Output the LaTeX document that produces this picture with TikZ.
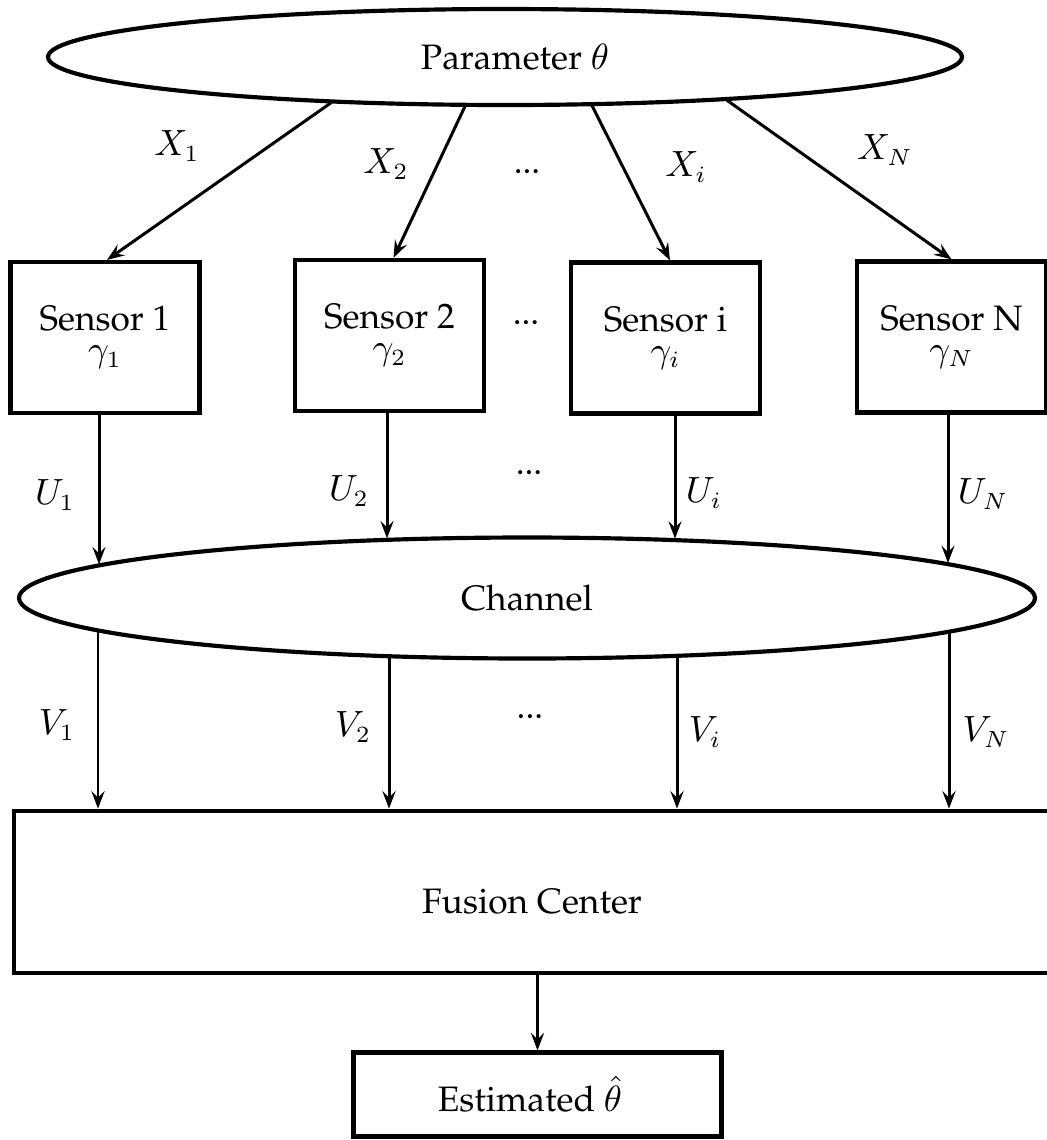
\documentclass[tikz,border=0pt]{standalone}
\usepackage[T1]{fontenc}
\renewcommand{\rmdefault}{ppl}
\usetikzlibrary{shapes.geometric,arrows.meta,calc}

\begin{document}
\begin{tikzpicture}[x=0.3pt,y=-0.3pt,
  font=\fontsize{10.6pt}{9.3pt}\selectfont,
  box/.style={draw, line width=1.25pt, rectangle, inner sep=0pt},
  oval/.style={draw, line width=1.25pt, ellipse, inner sep=0pt},
  sensorbox/.style={box, minimum width=56.7pt, minimum height=45.3pt, align=center},
  arr/.style={line width=0.9pt, -{Stealth[length=5.2pt,width=3.9pt,inset=1.9pt]}},
  lbl/.style={inner sep=0pt},
  dots/.style={inner sep=0pt, anchor=base}]
\useasboundingbox (0,0) rectangle (1047,1140);

% source, sensors, channel, fusion and output
\node[oval, minimum width=274.2pt, minimum height=28.8pt] (param) at (505,57) {\hspace*{6pt}Parameter $\theta$};
\node[sensorbox] (s1) at (105,337.5) {Sensor 1\\$\gamma_1$};
\node[sensorbox] (s2) at (389.5,335.5) {Sensor 2\\$\gamma_2$};
\node[sensorbox] (si) at (665.5,338) {Sensor i\\$\gamma_i$};
\node[sensorbox] (sN) at (951.5,337) {Sensor N\\$\gamma_N$};
\node[oval, minimum width=304.8pt, minimum height=36.3pt] (chan) at (527,598) {Channel};
\node[box, minimum width=310.65pt, minimum height=48.75pt, text height=12.6pt, text depth=0pt] (fusion) at (532,892) {Fusion Center};
\node[box, minimum width=110.4pt, minimum height=25.2pt] (est) at (537.5,1094.5) {Estimated $\hat{\theta}$\hspace*{4.5pt}};

% points on the two ellipses where the links meet them
\coordinate (x1s) at ($(param.center)+(-174,45.8)$);
\coordinate (x2s) at ($(param.center)+(-40,49.3)$);
\coordinate (xis) at ($(param.center)+(87,48.6)$);
\coordinate (xNs) at ($(param.center)+(222,43.3)$);
\coordinate (u1e) at ($(chan.center)+(-428,-33.7)$);
\coordinate (u2e) at ($(chan.center)+(-140,-59.6)$);
\coordinate (uie) at ($(chan.center)+(148,-59.3)$);
\coordinate (uNe) at ($(chan.center)+(421,-35)$);
\coordinate (v1s) at ($(chan.center)+(-429,33.5)$);
\coordinate (v2s) at ($(chan.center)+(-138,59.7)$);
\coordinate (vis) at ($(chan.center)+(150,59.3)$);
\coordinate (vNs) at ($(chan.center)+(422,34.8)$);

% observations
\draw[arr] (x1s) -- ([xshift=0.6pt]s1.north);
\draw[arr] (x2s) -- ([xshift=1.2pt]s2.north);
\draw[arr] (xis) -- ([xshift=1.35pt]si.north);
\draw[arr] (xNs) -- (sN.north);

% sensor outputs into the channel
\draw[arr] (u1e |- s1.south) -- (u1e);
\draw[arr] (u2e |- s2.south) -- (u2e);
\draw[arr] (uie |- si.south) -- (uie);
\draw[arr] (uNe |- sN.south) -- (uNe);

% channel outputs into the fusion center
\draw[arr] (v1s) -- (v1s |- fusion.north);
\draw[arr] (v2s) -- (v2s |- fusion.north);
\draw[arr] (vis) -- (vis |- fusion.north);
\draw[arr] (vNs) -- (vNs |- fusion.north);

\draw[arr] (fusion.south -| est.north) -- (est.north);

% labels
\node[lbl] (lx1) at (177,146) {$X_1$};
\node[lbl] (lx2) at (386,164) {$X_2$};
\node[dots] (xdots) at (527,173) {...};
\node[lbl] (lxi) at (686,167) {$X_i$};
\node[lbl] (lxN) at (885,150) {$X_N$};

\node[dots] (sdots) at (526,324) {...};

\node[lbl] (lu1) at (55,495) {$U_1$};
\node[lbl] (lu2) at (349,491) {$U_2$};
\node[dots] (udots) at (529,474) {...};
\node[lbl] (lui) at (704,493) {$U_i$};
\node[lbl] (luN) at (983,494) {$U_N$};

\node[lbl] (lv1) at (57,725) {$V_1$};
\node[lbl] (lv2) at (353,727) {$V_2$};
\node[dots] (vdots) at (530,718) {...};
\node[lbl] (lvi) at (705,732) {$V_i$};
\node[lbl] (lvN) at (986,732) {$V_N$};
\end{tikzpicture}
\end{document}
